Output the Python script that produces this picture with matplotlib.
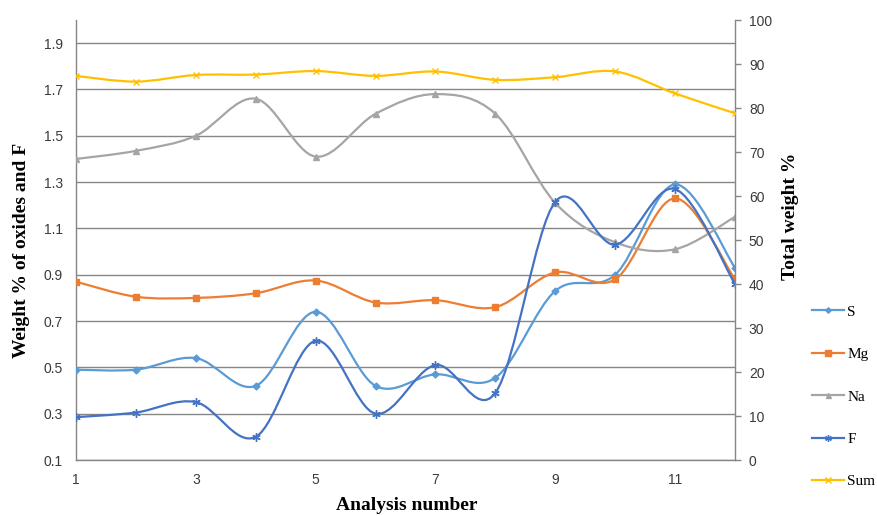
import numpy as np
import matplotlib
matplotlib.use("Agg")
import matplotlib.pyplot as plt
from matplotlib.path import Path
from matplotlib.patches import PathPatch
from matplotlib.lines import Line2D

# ---------------- data ----------------
analysis = [1, 2, 3, 4, 5, 6, 7, 8, 9, 10, 11, 12]
s_vals = [0.49, 0.49, 0.54, 0.42, 0.74, 0.42, 0.47, 0.455, 0.83, 0.90, 1.29, 0.93]
mg_vals = [0.87, 0.805, 0.80, 0.82, 0.875, 0.78, 0.79, 0.76, 0.91, 0.88, 1.23, 0.88]
na_vals = [1.40, 1.435, 1.50, 1.66, 1.41, 1.595, 1.68, 1.595, 1.21, 1.04, 1.01, 1.15]
f_vals = [0.285, 0.305, 0.35, 0.20, 0.615, 0.30, 0.51, 0.39, 1.215, 1.03, 1.27, 0.86]
sum_vals = [87.3, 86.0, 87.5, 87.6, 88.4, 87.3, 88.3, 86.4, 87.0, 88.3, 83.3, 78.8]

series_names = ["S", "Mg", "Na", "F", "Sum"]
left_ticks = [0.1, 0.3, 0.5, 0.7, 0.9, 1.1, 1.3, 1.5, 1.7, 1.9]
right_ticks = [0, 10, 20, 30, 40, 50, 60, 70, 80, 90, 100]
x_ticks = [1, 3, 5, 7, 9, 11]

# ---------------- style ----------------
colors = {"S": "#5B9BD5", "Mg": "#ED7D31", "Na": "#A5A5A5", "F": "#4472C4", "Sum": "#FFC000"}
markers = {"S": "D", "Mg": "s", "Na": "^", "F": (6, 2, 0), "Sum": "x"}
msizes = {"S": 3.5, "Mg": 5, "Na": 4.5, "F": 6, "Sum": 5}
grid_col = "#868686"
tick_font = "Liberation Sans"
label_font = "Liberation Serif"


def smooth_path(x, y):
    """Excel-style smoothed line (Catmull-Rom as cubic Bezier segments)."""
    x = np.asarray(x, float)
    y = np.asarray(y, float)
    n = len(x)
    verts = [(x[0], y[0])]
    codes = [Path.MOVETO]
    for i in range(n - 1):
        p0 = i - 1 if i > 0 else i
        p3 = i + 2 if i + 2 < n else i + 1
        c1 = (x[i] + (x[i + 1] - x[p0]) / 6.0, y[i] + (y[i + 1] - y[p0]) / 6.0)
        c2 = (x[i + 1] - (x[p3] - x[i]) / 6.0, y[i + 1] - (y[p3] - y[i]) / 6.0)
        verts += [c1, c2, (x[i + 1], y[i + 1])]
        codes += [Path.CURVE4] * 3
    return Path(verts, codes)


fig = plt.figure(figsize=(8.77, 5.16), dpi=100)
ax = fig.add_axes([76 / 877, 1 - 460 / 516, (735 - 76) / 877, 440 / 516])
ax2 = ax.twinx()

ax.set_xlim(1, 12)
ax.set_ylim(0.1, 2.0)
ax2.set_ylim(0, 100)

left_data = {"S": s_vals, "Mg": mg_vals, "Na": na_vals, "F": f_vals}
for z, name in enumerate(["S", "Mg", "Na", "F"]):
    vals = left_data[name]
    ax.add_patch(PathPatch(smooth_path(analysis, vals), fill=False,
                           edgecolor=colors[name], lw=1.6, zorder=3 + z,
                           capstyle="round", joinstyle="round"))
    ax.plot(analysis, vals, linestyle="none", marker=markers[name],
            ms=msizes[name], color=colors[name], mec=colors[name],
            mew=1.0, zorder=3.5 + z)

ax2.add_patch(PathPatch(smooth_path(analysis, sum_vals), fill=False,
                        edgecolor=colors["Sum"], lw=1.6, zorder=3))
ax2.plot(analysis, sum_vals, linestyle="none", marker=markers["Sum"],
         ms=msizes["Sum"], color=colors["Sum"], mew=1.0, zorder=4)

# grid & spines
ax.set_yticks(left_ticks)
ax.set_yticklabels([f"{v:.1f}" for v in left_ticks])
ax.set_xticks(x_ticks)
ax.set_xticklabels([str(v) for v in x_ticks])
ax.yaxis.grid(True, color=grid_col, lw=1.0)
ax.set_axisbelow(True)
ax2.set_yticks(right_ticks)
ax2.set_yticklabels([str(v) for v in right_ticks])

for a in (ax, ax2):
    a.spines["top"].set_visible(False)
    for sp in ("left", "right", "bottom"):
        a.spines[sp].set_color(grid_col)
        a.spines[sp].set_linewidth(1.0)
ax.spines["right"].set_visible(False)
ax2.spines["left"].set_visible(False)
ax2.spines["bottom"].set_visible(False)

ax.tick_params(axis="y", length=0, pad=9.5, labelsize=10, labelcolor="#3a3a3a")
ax.tick_params(axis="x", length=0, pad=9, labelsize=10, labelcolor="#3a3a3a")
ax2.tick_params(axis="y", direction="out", length=4, width=1, color=grid_col,
                pad=6, labelsize=10, labelcolor="#3a3a3a")
for lab in ax.get_xticklabels() + ax.get_yticklabels() + ax2.get_yticklabels():
    lab.set_fontfamily(tick_font)

# axis labels
ax.set_ylabel("Weight % of oxides and F", fontsize=14, fontweight="bold",
              family=label_font, va="center", ha="center")
ax.yaxis.set_label_coords((22 - 76) / 659, (460 - 250) / 440)
ax2.set_ylabel("Total weight %", fontsize=14, fontweight="bold",
               family=label_font, va="center", ha="center", rotation=90)
ax2.yaxis.set_label_coords((790 - 76) / 659, (460 - 216) / 440)
ax.set_xlabel("Analysis number", fontsize=14, fontweight="bold",
              family=label_font, va="center", ha="center")
ax.xaxis.set_label_coords((407 - 76) / 659, (460 - 505) / 440)

# legend
handles = [Line2D([0], [0], color=colors[n], lw=1.6, marker=markers[n],
                  ms=msizes[n] * 0.8, mew=1.0) for n in series_names]
fig.legend(handles, series_names, loc="upper left",
           bbox_to_anchor=(812 / 877, 1 - 305 / 516), frameon=False,
           prop={"family": label_font, "size": 11}, handlelength=2.1,
           handletextpad=0.2, labelspacing=1.88, borderpad=0, borderaxespad=0)

fig.savefig("out.png", dpi=100, facecolor="white")
